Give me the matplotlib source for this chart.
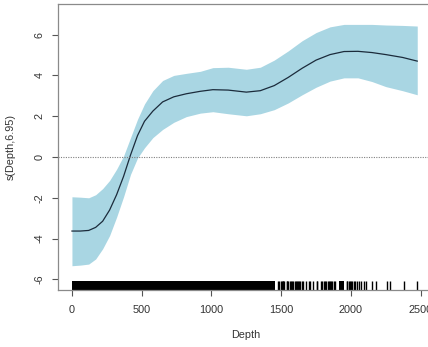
"""Smooth term for Depth from a fitted GAM, with confidence band and data rug."""
import matplotlib

matplotlib.use("Agg")
import matplotlib.pyplot as plt

plt.rcParams["font.family"] = ["Liberation Sans", "DejaVu Sans"]

# estimated smooth s(Depth) and its +/- 2 SE band
depth = [0, 60, 120, 170, 220, 270, 320, 370, 420, 470, 520, 580, 650, 730, 820,
         920, 1010, 1120, 1250, 1350, 1450, 1550, 1650, 1750, 1850, 1950, 2050,
         2150, 2250, 2370, 2475]
fit = [-3.63, -3.63, -3.60, -3.45, -3.15, -2.60, -1.85, -0.95, 0.10, 1.05, 1.75,
       2.25, 2.70, 2.95, 3.10, 3.22, 3.30, 3.28, 3.18, 3.25, 3.50, 3.90, 4.35,
       4.75, 5.02, 5.17, 5.18, 5.12, 5.02, 4.88, 4.70]
upper = [-1.95, -1.97, -2.00, -1.85, -1.55, -1.15, -0.60, 0.05, 0.95, 1.85, 2.60,
         3.25, 3.75, 4.00, 4.10, 4.20, 4.38, 4.40, 4.30, 4.40, 4.75, 5.20, 5.70,
         6.10, 6.38, 6.50, 6.50, 6.50, 6.47, 6.45, 6.42]
lower = [-5.33, -5.30, -5.25, -5.00, -4.50, -3.85, -2.95, -1.95, -0.85, -0.05, 0.45,
         0.95, 1.35, 1.70, 1.98, 2.15, 2.22, 2.12, 2.02, 2.12, 2.32, 2.65, 3.05,
         3.42, 3.72, 3.88, 3.88, 3.70, 3.45, 3.25, 3.05]

# rug: observations are continuous over these spans, then thin out
rug_spans = [(0, 1458), (1915, 1950)]
rug_ticks = [1475, 1482, 1500, 1505, 1510, 1515, 1521, 1538, 1544, 1548, 1562, 1568,
             1575, 1581, 1600, 1606, 1610, 1622, 1630, 1636, 1650, 1656, 1678, 1700,
             1708, 1726, 1754, 1760, 1785, 1792, 1808, 1815, 1822, 1835, 1842, 1850,
             1856, 1864, 1880, 1888, 1968, 1975, 1985, 1992, 2003, 2010, 2025, 2032,
             2046, 2060, 2075, 2090, 2105, 2152, 2176, 2258, 2278, 2379, 2475]

xticks = [0, 500, 1000, 1500, 2000, 2500]
yticks = [-6, -4, -2, 0, 2, 4, 6]

fig = plt.figure(figsize=(4.28, 3.47), dpi=100)
ax = fig.add_axes([58 / 428, 57 / 347, 375 / 428, 286 / 347])

ax.fill_between(depth, lower, upper, color="#a9d6e3", lw=0)
ax.plot(depth, fit, color="#1b2b3b", lw=0.9)
ax.axhline(0, color="#808080", lw=0.8, ls=(0, (1, 1.2)))

rug = ax.get_xaxis_transform()
for a, b in rug_spans:
    ax.fill_between([a, b], 0, 0.031, transform=rug, color="black", lw=0)
ax.vlines(rug_ticks, 0, 0.031, transform=rug, color="black", lw=1.0)

ax.set_xlim(-100, 2588)
ax.set_ylim(-6.52, 7.5)
ax.set_xticks(xticks)
ax.set_yticks(yticks)
ax.set_yticklabels([str(v) for v in yticks], rotation=90, va="center")

for side in ("top", "left", "bottom"):
    ax.spines[side].set_color("#8a8a8a")
    ax.spines[side].set_linewidth(0.9)
ax.spines["right"].set_visible(False)
ax.tick_params(colors="#555555", labelcolor="#333333", labelsize=7.8,
               length=4.5, width=0.8)
ax.tick_params(axis="y", pad=5)
ax.tick_params(axis="x", pad=6)

ax.set_xlabel("Depth", fontsize=7.8, color="#333333", labelpad=11)
ax.set_ylabel("s(Depth,6.95)", fontsize=7.8, color="#333333", labelpad=14)

fig.savefig("out.png", dpi=100)
